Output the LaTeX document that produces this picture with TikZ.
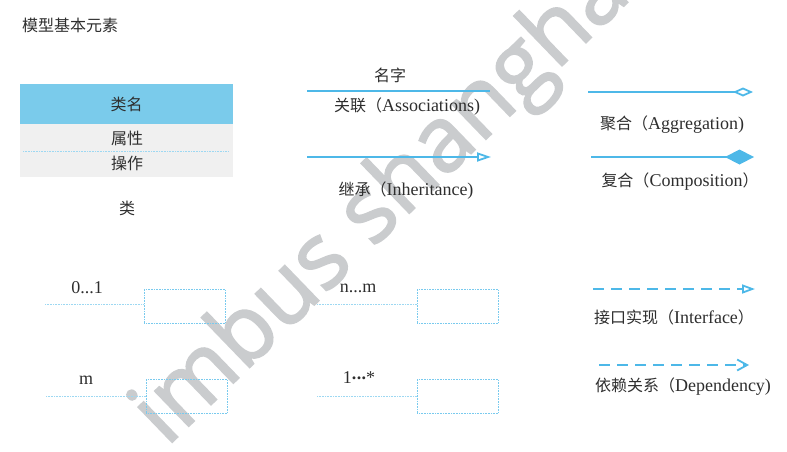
\documentclass[tikz,border=0pt]{standalone}
\usepackage{fontspec}
\setmainfont{Liberation Serif}
\newfontfamily\cjk{Noto Sans CJK SC}
\newfontfamily\wmfont[FakeBold=2]{Open Sans}
\usetikzlibrary{arrows.meta}
\definecolor{umlblue}{HTML}{4DB8E8}
\definecolor{headblue}{HTML}{7ACBEB}
\definecolor{bodygray}{HTML}{F0F0F0}
\definecolor{txtgray}{HTML}{2E2E2E}
\definecolor{wmgray}{HTML}{CACCCE}

\begin{document}
\begin{tikzpicture}[x=1pt,y=-1pt]
        \tikzset{lbl/.style={text=txtgray, inner sep=0pt, font=\fontsize{18}{20}\selectfont},
            umlline/.style={umlblue, line width=1.8pt},
            dashline/.style={umlblue, line width=1.8pt, dash pattern=on 11pt off 7pt},
            dotline/.style={umlblue!55, line width=0.7pt, dash pattern=on 0.8pt off 0.8pt},
            multbox/.style={draw=umlblue!75, line width=0.7pt, dash pattern=on 0.8pt off 0.8pt,
                minimum width=81pt, minimum height=34pt, inner sep=0pt}}
        \newcommand{\zh}[1]{{\cjk\fontsize{16}{18}\selectfont #1}}
        \useasboundingbox (0,0) rectangle (787,451);
        % watermark
        \node[text=wmgray, font=\wmfont\fontsize{91}{93}\selectfont, rotate=44, anchor=base west]
            (wmark) at (164,450) {imbus shanghai};
        \node[lbl, anchor=west] (title) at (22,25) {\zh{模型基本元素}};
        
        % class box
        \node[fill=headblue, minimum width=213pt, minimum height=40pt, lbl] (clsname) at (126.5,104) {\zh{类名}};
        \node[fill=bodygray, minimum width=213pt, minimum height=53pt, inner sep=0pt, anchor=north]
            (clsbody) at (clsname.south) {};
        \node[lbl] (clsattr) at (127,138) {\zh{属性}};
        \node[lbl] (clsop) at (127,163) {\zh{操作}};
        \coordinate (sepL) at (23,151);
        \coordinate (sepR) at (229,151);
        \draw[dotline] (sepL) -- (sepR);
        \node[lbl] (clscap) at (127,208) {\zh{类}};
        
        % association and inheritance
        \coordinate (assocL) at (307,91);
        \coordinate (assocR) at (490,91);
        \draw[umlline] (assocL) -- (assocR);
        \node[lbl] (assocname) at (390,75) {\zh{名字}};
        \node[lbl] (assoclbl) at (407,107) {\zh{关联（}Associations)};
        \coordinate (inhL) at (307,157);
        \coordinate (inhR) at (491,157);
        \draw[umlline, -{Triangle[open, length=14pt, width=9pt]}] (inhL) -- (inhR);
        \node[lbl] (inhlbl) at (406,191) {\zh{继承（}Inheritance)};
        
        % aggregation and composition
        \coordinate (aggL) at (588,92);
        \coordinate (aggR) at (753,92);
        \draw[umlline, -{Diamond[open, length=20pt, width=9pt]}] (aggL) -- (aggR);
        \node[lbl] (agglbl) at (672,125) {\zh{聚合（}Aggregation)};
        \coordinate (compL) at (591,157);
        \coordinate (compR) at (754,157);
        \draw[umlline, -{Diamond[length=29pt, width=15pt]}] (compL) -- (compR);
        \node[lbl] (complbl) at (680,182) {\zh{复合（}Composition\zh{）}};
        
        % interface and dependency
        \coordinate (ifaceL) at (593,289);
        \coordinate (ifaceR) at (755,289);
        \draw[dashline, -{Triangle[open, length=13pt, width=9pt]}] (ifaceL) -- (ifaceR);
        \node[lbl] (ifacelbl) at (674,317) {\zh{接口实现（}Interface\zh{）}};
        \coordinate (depL) at (599,365);
        \coordinate (depR) at (749,365);
        \draw[dashline, -{Straight Barb[length=10pt, width=11pt]}] (depL) -- (depR);
        \node[lbl] (deplbl) at (683,387) {\zh{依赖关系（}Dependency)};
        
        % multiplicity
        \node[multbox, anchor=north west] (boxA) at (144,289) {};
        \coordinate (lineA) at (45,304);
        \draw[dotline] (lineA) -- (lineA -| boxA.west);
        \node[lbl] (multA) at (87,288) {0...1};
        \node[multbox, anchor=north west] (boxB) at (417,289) {};
        \coordinate (lineB) at (317,304);
        \draw[dotline] (lineB) -- (lineB -| boxB.west);
        \node[lbl] (multB) at (358,288) {n...m};
        \node[multbox, anchor=north west] (boxC) at (146,379) {};
        \coordinate (lineC) at (46,396);
        \draw[dotline] (lineC) -- (lineC -| boxC.west);
        \node[lbl] (multC) at (86,380) {m};
        \node[multbox, anchor=north west] (boxD) at (417,379) {};
        \coordinate (lineD) at (317,396);
        \draw[dotline] (lineD) -- (lineD -| boxD.west);
        \node[lbl] (multD) at (359,378) {1\raisebox{0.22em}{\textbf{.\kern0.4pt.\kern0.4pt.}}*};
\end{tikzpicture}
\end{document}
